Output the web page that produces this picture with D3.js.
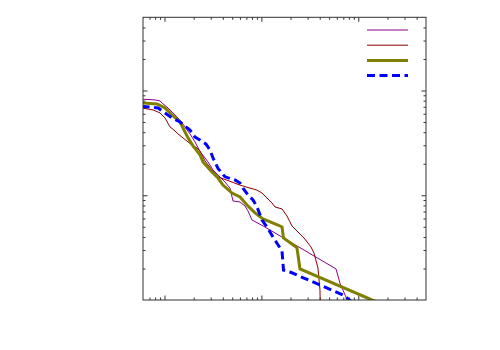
<!DOCTYPE html>
<html>
<head>
<meta charset="utf-8">
<script src="https://cdn.jsdelivr.net/npm/d3@7"></script>
<style>
  body { margin: 0; background: #fff; }
</style>
</head>
<body>
<div class="canvas"></div>
<script>
// series (log-log, no labels shown)
const magentaX = [0.58, 0.6, 0.798, 0.899, 0.965, 1.087, 1.224, 1.445, 1.628, 1.833, 2.064, 2.325, 2.618, 2.81, 3.166, 3.566, 4.21, 4.742, 5.092, 6.015, 6.771, 7.27, 8.0, 10.39, 58.9, 64.7, 78.3]
const magentaY = [0.826, 0.826, 0.813, 0.796, 0.745, 0.682, 0.611, 0.524, 0.449, 0.385, 0.323, 0.2615, 0.227, 0.208, 0.1744, 0.156, 0.134, 0.117, 0.0882, 0.0863, 0.079, 0.0708, 0.0581, 0.051, 0.0198, 0.0145, 0.0096]

const darkredX = [0.58, 0.6, 0.761, 0.899, 1.012, 1.14, 1.284, 1.378, 1.552, 1.748, 1.968, 2.165, 2.325, 2.618, 3.092, 3.566, 6.015, 9.01, 10.14, 12.87, 13.81, 16.32, 18.38, 20.69, 23.31, 27.5, 32.5, 34.9, 38.38, 40.24, 40.5]
const darkredY = [0.678, 0.678, 0.653, 0.611, 0.547, 0.449, 0.411, 0.385, 0.353, 0.323, 0.296, 0.283, 0.265, 0.2127, 0.1744, 0.150, 0.125, 0.112, 0.105, 0.0844, 0.0773, 0.074, 0.0634, 0.0509, 0.0456, 0.0391, 0.0321, 0.0281, 0.0202, 0.01246, 0.00896]

const oliveX = [0.58, 0.6, 0.837, 1.012, 1.195, 1.445, 1.552, 1.748, 1.968, 2.325, 2.497, 3.02, 3.566, 4.016, 4.973, 6.015, 7.1, 8.59, 10.39, 14.84, 16.32, 16.91, 22.76, 23.31, 25.02, 138.5, 167.5]
const oliveY = [0.761, 0.761, 0.745, 0.682, 0.585, 0.501, 0.439, 0.353, 0.296, 0.243, 0.208, 0.1706, 0.146, 0.125, 0.105, 0.0964, 0.0808, 0.0678, 0.0594, 0.052, 0.0498, 0.0391, 0.0321, 0.0314, 0.0198, 0.01, 0.00936]

const blueX = [0.58, 0.6, 0.709, 0.857, 1.012, 1.195, 1.445, 1.833, 2.064, 2.325, 2.681, 2.949, 3.166, 3.566, 4.21, 5.34, 6.015, 6.458, 7.27, 8.19, 9.01, 10.14, 11.42, 13.17, 15.56, 16.32, 16.91, 19.73, 69.54, 86.1]
const blueY = [0.702, 0.702, 0.697, 0.682, 0.611, 0.547, 0.501, 0.420, 0.359, 0.337, 0.3076, 0.271, 0.227, 0.1806, 0.150, 0.140, 0.131, 0.117, 0.1007, 0.0902, 0.0773, 0.0581, 0.0498, 0.040, 0.0314, 0.0294, 0.0193, 0.0185, 0.01116, 0.0096]

const xMajor = [1, 10, 100]
const xMinor = [0.7, 0.8, 0.9, 2, 3, 4, 5, 6, 7, 8, 9, 20, 30, 40, 50, 60, 70, 80, 90, 200, 300, 400]
const yMajor = [0.1, 1]
const yMinor = [0.02, 0.03, 0.04, 0.05, 0.06, 0.07, 0.08, 0.09, 0.2, 0.3, 0.4, 0.5, 0.6, 0.7, 0.8, 0.9, 2, 3, 4]

const series = [
  { xs: magentaX, ys: magentaY, color: '#8b008b', width: 1, dash: null },
  { xs: darkredX, ys: darkredY, color: '#8b0000', width: 1, dash: null },
  { xs: oliveX, ys: oliveY, color: '#808000', width: 3, dash: null },
  { xs: blueX, ys: blueY, color: '#0000ff', width: 3, dash: '8,4.5' }
]

const svg = d3.select('.canvas')
  .append('svg')
    .attr('width', 500)
    .attr('height', 350)

const plotLeft = 143, plotRight = 426, plotTop = 17.3, plotBottom = 300

const x = d3.scaleLog()
  .domain([0.6, 500])
  .range([plotLeft, plotRight])

const y = d3.scaleLog()
  .domain([0.01, 5])
  .range([plotBottom, plotTop])

svg.append('clipPath')
  .attr('id', 'plotclip')
  .append('rect')
    .attr('x', plotLeft)
    .attr('y', plotTop)
    .attr('width', plotRight - plotLeft)
    .attr('height', plotBottom - plotTop)

// inward ticks on all four sides
const tickAxis = (axis, values, size, tx, ty) => {
  const g = svg.append('g')
    .attr('transform', `translate(${tx}, ${ty})`)
    .call(axis.tickValues(values).tickSizeInner(size).tickSizeOuter(0).tickFormat(''))
  g.select('.domain').remove()
  g.selectAll('line').attr('stroke', '#333')
}

tickAxis(d3.axisBottom(x), xMajor, -4.5, 0, plotBottom)
tickAxis(d3.axisBottom(x), xMinor, -2.5, 0, plotBottom)
tickAxis(d3.axisTop(x), xMajor, -4.5, 0, plotTop)
tickAxis(d3.axisTop(x), xMinor, -2.5, 0, plotTop)
tickAxis(d3.axisLeft(y), yMajor, -4.5, plotLeft, 0)
tickAxis(d3.axisLeft(y), yMinor, -2.5, plotLeft, 0)
tickAxis(d3.axisRight(y), yMajor, -4.5, plotRight, 0)
tickAxis(d3.axisRight(y), yMinor, -2.5, plotRight, 0)

const line = d3.line()
  .x(d => x(d[0]))
  .y(d => y(d[1]))

const plot = svg.append('g')
  .attr('clip-path', 'url(#plotclip)')

series.forEach(s => {
  plot.append('path')
    .datum(d3.zip(s.xs, s.ys))
    .attr('d', line)
    .attr('fill', 'none')
    .attr('stroke', s.color)
    .attr('stroke-width', s.width)
    .attr('stroke-dasharray', s.dash)
    .attr('stroke-linejoin', 'miter')
})

// legend samples (no text in the original)
const legend = svg.append('g')
  .attr('transform', 'translate(367, 30)')

legend.selectAll('line')
  .data(series)
  .enter()
  .append('line')
    .attr('x1', 0)
    .attr('x2', 41)
    .attr('y1', (d, i) => i * 15.2)
    .attr('y2', (d, i) => i * 15.2)
    .attr('stroke', d => d.color)
    .attr('stroke-width', d => d.width)
    .attr('stroke-dasharray', d => d.dash)

svg.append('rect')
  .attr('x', plotLeft)
  .attr('y', plotTop)
  .attr('width', plotRight - plotLeft)
  .attr('height', plotBottom - plotTop)
  .attr('fill', 'none')
  .attr('stroke', '#333')
  .attr('stroke-width', 1)
</script>
</body>
</html>
